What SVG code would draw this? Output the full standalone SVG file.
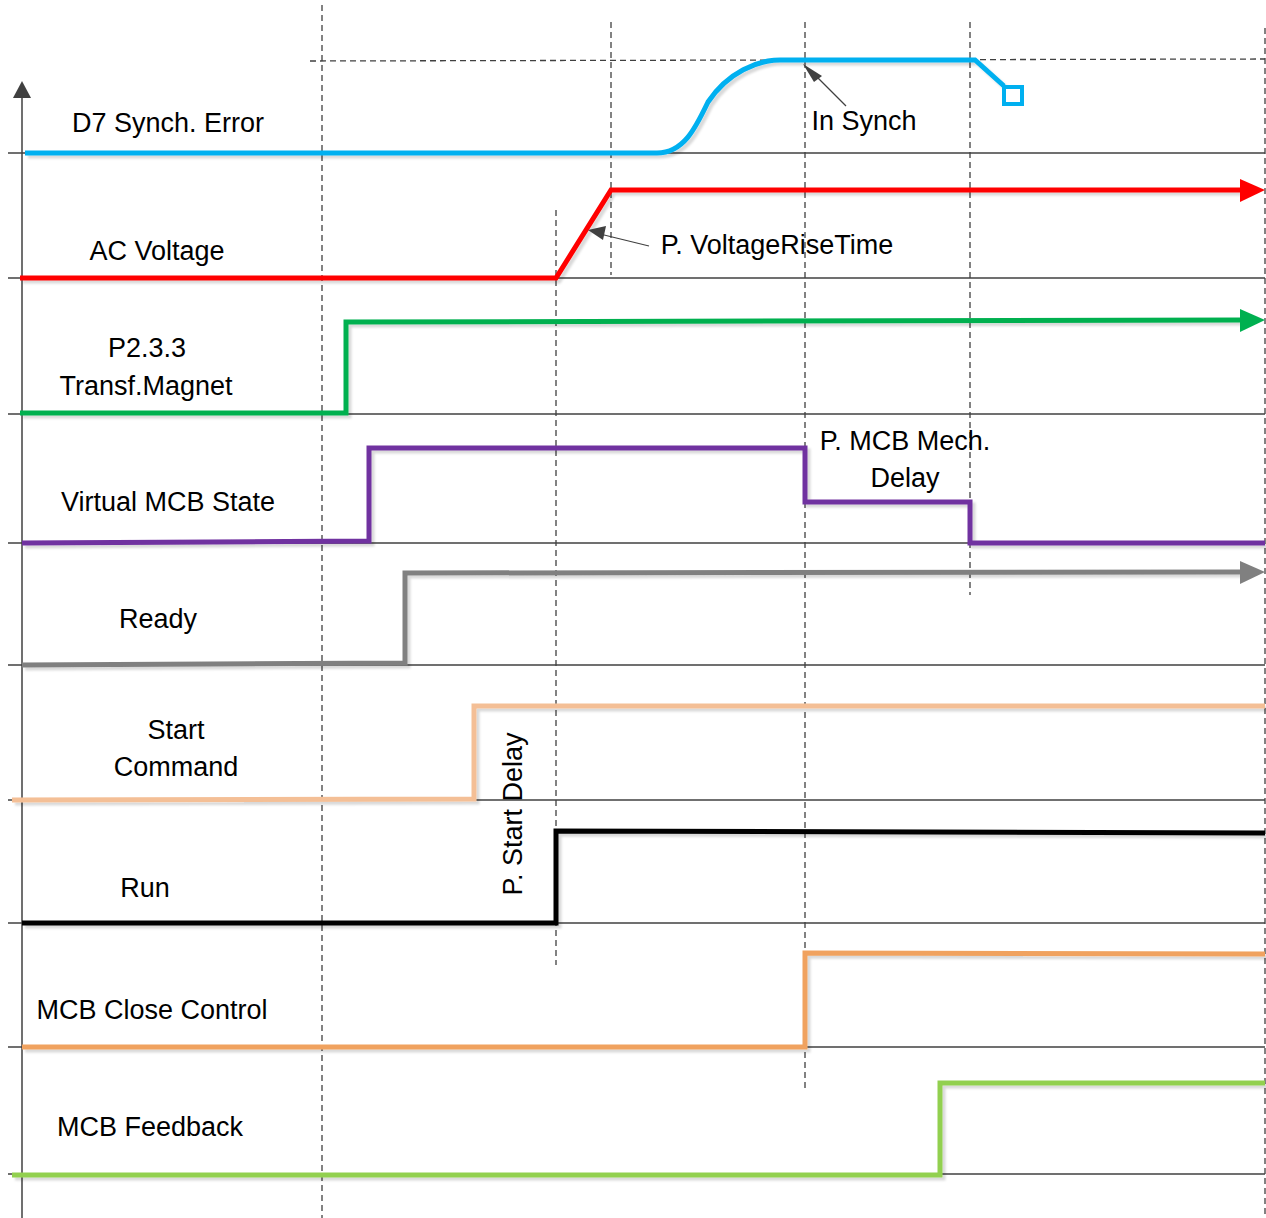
<svg xmlns="http://www.w3.org/2000/svg" width="1266" height="1218" viewBox="0 0 1266 1218">
<style>
text{font-family:"Liberation Sans",Arial,sans-serif;font-size:27px;fill:#000;text-anchor:middle}
.base{stroke:#404040;stroke-width:1.5;fill:none}
.dash{stroke:#404040;stroke-width:1.3;stroke-dasharray:6 4;fill:none}
.sig{fill:none;stroke-width:5;stroke-linejoin:miter;filter:url(#sh)}
.ptr{stroke:#404040;stroke-width:1.2;fill:none}
</style>
<defs>
<filter id="sh" x="-5%" y="-50%" width="110%" height="200%">
<feDropShadow dx="3" dy="3" stdDeviation="0.8" flood-color="#000" flood-opacity="0.15"/>
</filter>
</defs>
<rect width="1266" height="1218" fill="#fff"/>
<g id="grid">
<line class="base" x1="8" y1="153" x2="1265" y2="153"/>
<line class="base" x1="8" y1="278" x2="1265" y2="278"/>
<line class="base" x1="8" y1="414" x2="1265" y2="414"/>
<line class="base" x1="8" y1="543" x2="1265" y2="543"/>
<line class="base" x1="8" y1="665" x2="1265" y2="665"/>
<line class="base" x1="8" y1="800" x2="1265" y2="800"/>
<line class="base" x1="8" y1="923" x2="1265" y2="923"/>
<line class="base" x1="8" y1="1047" x2="1265" y2="1047"/>
<line class="base" x1="8" y1="1174" x2="1265" y2="1174"/>
<line class="base" x1="22" y1="96" x2="22" y2="1218"/>
<polygon points="22,81 13,98 31,98" fill="#404040"/>
<line class="dash" x1="322" y1="5" x2="322" y2="1218"/>
<line class="dash" x1="611" y1="22" x2="611" y2="275"/>
<line class="dash" x1="556" y1="210" x2="556" y2="965"/>
<line class="dash" x1="805" y1="22" x2="805" y2="1090"/>
<line class="dash" x1="970" y1="22" x2="970" y2="595"/>
<line class="dash" x1="1265" y1="28" x2="1265" y2="1218"/>
<line class="dash" x1="310" y1="61" x2="1265" y2="59"/>
</g>
<g id="connectors">
<g id="sig-d7">
<path class="sig" stroke="#00B0F0" d="M25,153 L657,153 C684,153 696,127 708,102 C728,72 758,60 780,60 L975,60 L1004,86"/>
<rect x="1004" y="87" width="18" height="17" fill="#fff" stroke="#00B0F0" stroke-width="4"/>
</g>
<g id="sig-ac">
<path class="sig" stroke="#FF0000" d="M20,278 L556,278 L611,190 L1242,190"/>
<polygon points="1240,179 1265,190 1240,202" fill="#FF0000"/>
</g>
<g id="sig-p233">
<path class="sig" stroke="#00B050" d="M20,413 L346,413 L346,322 L1242,320"/>
<polygon points="1240,309 1265,320 1240,332" fill="#00B050"/>
</g>
<g id="sig-vmcb">
<path class="sig" stroke="#7030A0" d="M22,543 L369,541 L369,448 L805,448 L805,502 L970,502 L970,543 L1265,543"/>
</g>
<g id="sig-ready">
<path class="sig" stroke="#808080" d="M22,665 L405,663 L405,573 L1242,572"/>
<polygon points="1240,561 1265,572 1240,584" fill="#808080"/>
</g>
<g id="sig-start">
<path class="sig" stroke="#F4BF96" d="M12,800 L474,799 L474,706 L1265,706"/>
</g>
<g id="sig-run">
<path class="sig" stroke="#000" d="M22,923 L556,923 L556,831 L1265,833"/>
</g>
<g id="sig-mcbclose">
<path class="sig" stroke="#F0A25E" d="M22,1047 L805,1047 L805,953 L1265,954"/>
</g>
<g id="sig-mcbfb">
<path class="sig" stroke="#92D050" d="M12,1175 L940,1175 L940,1083 L1265,1083"/>
</g>
<g id="ptr-insynch">
<line class="ptr" x1="846" y1="106" x2="812" y2="72"/>
<polygon points="803,64 822,76 814,82" fill="#404040"/>
</g>
<g id="ptr-rise">
<line class="ptr" x1="649" y1="246" x2="600" y2="234"/>
<polygon points="588,230 606,226 603,240" fill="#404040"/>
</g>
</g>
<g id="labels">
<text x="168" y="132">D7 Synch. Error</text>
<text x="864" y="130">In Synch</text>
<text x="157" y="260">AC Voltage</text>
<text x="777" y="254">P. VoltageRiseTime</text>
<text x="147" y="357">P2.3.3</text>
<text x="146" y="395">Transf.Magnet</text>
<text x="168" y="511">Virtual MCB State</text>
<text x="905" y="450">P. MCB Mech.</text>
<text x="905" y="487">Delay</text>
<text x="158" y="628">Ready</text>
<text x="176" y="739">Start</text>
<text x="176" y="776">Command</text>
<text x="145" y="897">Run</text>
<text transform="translate(522,814) rotate(-90)">P. Start Delay</text>
<text x="152" y="1019">MCB Close Control</text>
<text x="150" y="1136">MCB Feedback</text>
</g>
</svg>
